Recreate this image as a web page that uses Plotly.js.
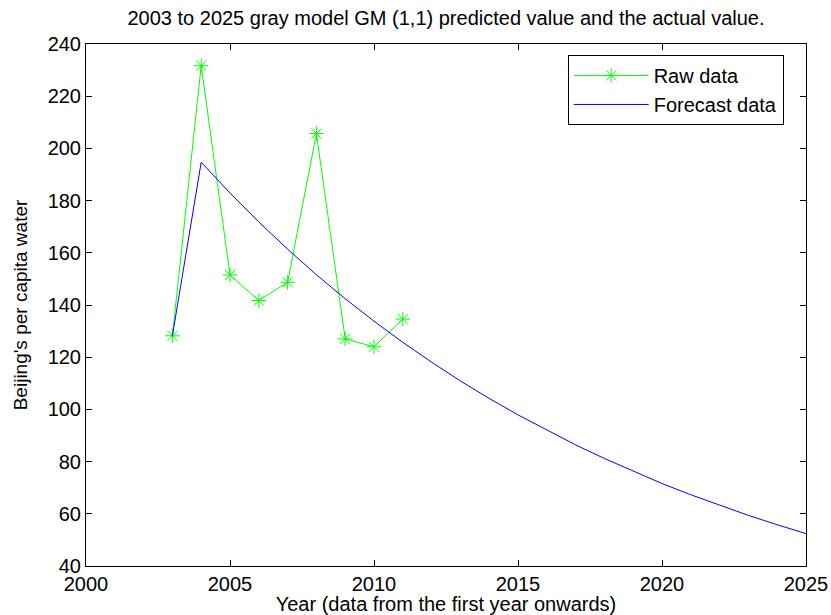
<!DOCTYPE html>
<html>
<head>
<meta charset="utf-8">
<script src="https://cdn.plot.ly/plotly-3.0.1.min.js"></script>
<style>html,body{margin:0;padding:0;background:#fff;}#chart{width:831px;height:615px;}</style>
</head>
<body>
<div id="chart"></div>
<script>
const rawYears = [2003, 2004, 2005, 2006, 2007, 2008, 2009, 2010, 2011];
const rawValues = [128.2, 231.7, 151.5, 141.7, 148.7, 205.7, 127.0, 124.0, 134.6];
const forecastYears = [2003, 2004, 2005, 2006, 2007, 2008, 2009, 2010, 2011, 2012, 2013, 2014,
  2015, 2016, 2017, 2018, 2019, 2020, 2021, 2022, 2023, 2024, 2025];
const forecastValues = [128.2, 194.7, 182.9, 171.8, 161.4, 151.6, 142.4, 133.8, 125.7, 118.1, 110.9, 104.2,
  97.9, 92.0, 86.4, 81.2, 76.3, 71.6, 67.3, 63.2, 59.4, 55.8, 52.4];
const xTicks = [2000, 2005, 2010, 2015, 2020, 2025];
const yTicks = [40, 60, 80, 100, 120, 140, 160, 180, 200, 220, 240];

const fontFam = '"Liberation Sans", Arial, sans-serif';
const traces = [
  {
    x: rawYears, y: rawValues, type: 'scatter', mode: 'lines+markers', name: 'Raw data',
    line: {color: '#00ff00', width: 1},
    marker: {symbol: 'asterisk-open', size: 12, color: '#00ff00', line: {color: '#00ff00', width: 1}}
  },
  {
    x: forecastYears, y: forecastValues, type: 'scatter', mode: 'lines', name: 'Forecast data',
    line: {color: '#0000ff', width: 1}
  }
];
const axisCommon = {
  showgrid: false, zeroline: false, showline: true, linecolor: '#000', linewidth: 1,
  mirror: 'ticks', ticks: 'inside', ticklen: 6, tickcolor: '#000', tickwidth: 1,
  tickfont: {family: fontFam, size: 20, color: '#000'}
};
const layout = {
  width: 831, height: 615,
  paper_bgcolor: '#fff', plot_bgcolor: '#fff',
  margin: {l: 86, r: 25, t: 44, b: 49},
  showlegend: true,
  title: {text: '2003 to 2025 gray model GM (1,1) predicted value and the actual value.',
    font: {family: fontFam, size: 20, color: '#000'}, xref: 'paper', x: 0.5, xanchor: 'center', y: 0.97, yanchor: 'middle'},
  xaxis: Object.assign({}, axisCommon, {
    range: [2000, 2025], tickvals: xTicks, ticktext: xTicks.map(String),
    title: {text: 'Year (data from the first year onwards)', font: {family: fontFam, size: 20, color: '#000'}, standoff: 11}
  }),
  yaxis: Object.assign({}, axisCommon, {
    range: [40, 240], tickvals: yTicks, ticktext: yTicks.map(String),
    title: {text: "Beijing's per capita water", font: {family: fontFam, size: 19, color: '#000'}, standoff: 14}
  }),
  legend: {
    x: 0.669, y: 0.979, xanchor: 'left', yanchor: 'top',
    bordercolor: '#000', borderwidth: 1, bgcolor: '#fff',
    font: {family: fontFam, size: 20, color: '#000'},
    itemwidth: 75, tracegroupgap: 0
  }
};
Plotly.newPlot('chart', traces, layout, {displayModeBar: false, staticPlot: true});
</script>
</body>
</html>
